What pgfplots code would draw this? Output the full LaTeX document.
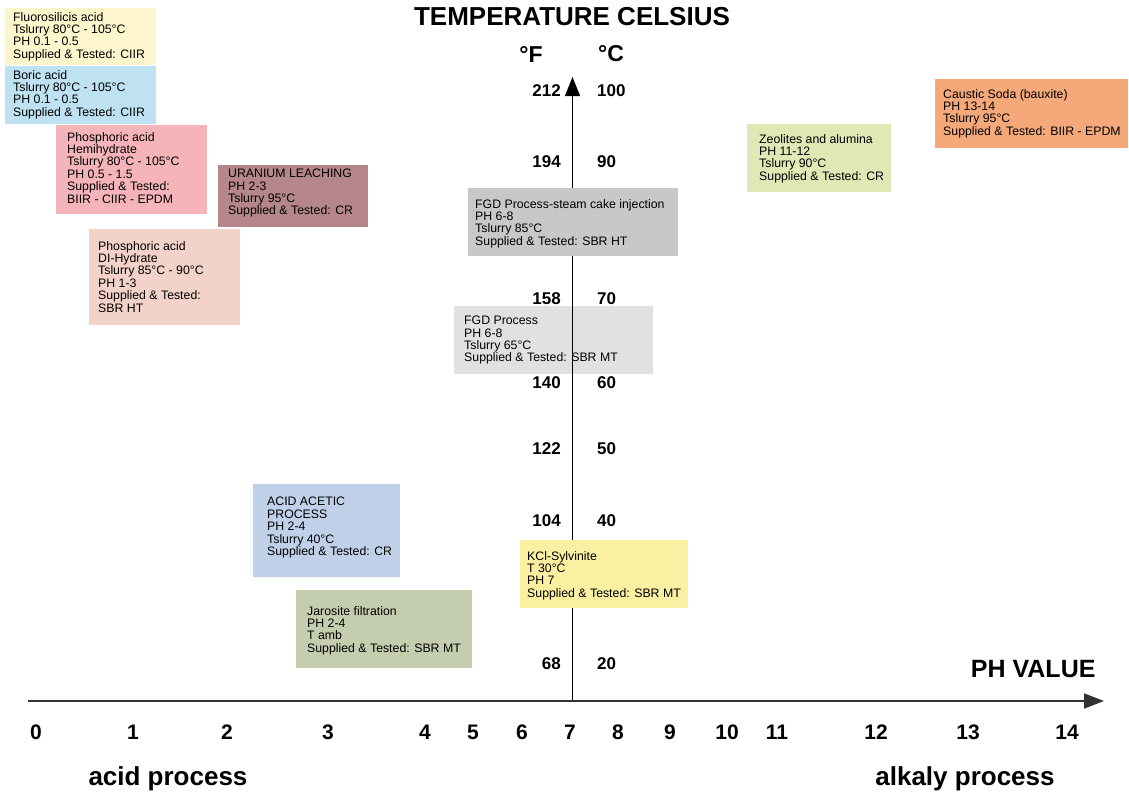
\documentclass[border=0pt]{standalone}
\usepackage{fontspec}
\setmainfont{Liberation Sans}
\usepackage{pgfplots}
\pgfplotsset{compat=1.18}
\usetikzlibrary{arrows.meta}

\definecolor{axgray}{HTML}{333333}
\definecolor{cFluoro}{HTML}{FDF6CC}
\definecolor{cBoric}{HTML}{BEE2F2}
\definecolor{cHemi}{HTML}{F5B4BA}
\definecolor{cUran}{HTML}{B5878A}
\definecolor{cDiHyd}{HTML}{F3D3C9}
\definecolor{cSteam}{HTML}{C8C8C8}
\definecolor{cFGD}{HTML}{E1E1E1}
\definecolor{cZeol}{HTML}{DFE9B5}
\definecolor{cCaust}{HTML}{F5A97A}
\definecolor{cAcet}{HTML}{C0D0E9}
\definecolor{cJaro}{HTML}{C5CDAF}
\definecolor{cKCl}{HTML}{F9F0A1}

\newcommand\boxfont{\fontsize{12.3}{12.4}\selectfont}
% box: x1 y1 x2 y2 colour textx texty text  (pixel coordinates, y downwards)
\newcommand\procbox[8]{%
  \addplot[fill=#5, draw=none] coordinates {(#1,#2) (#3,#2) (#3,#4) (#1,#4)} -- cycle;
  \node[anchor=north west, inner sep=0pt, align=left, font=\boxfont] at (axis cs:#6,#7) {#8};
}

\pgfplotstableread{
x    y   l
36   732 0
133  732 1
227  732 2
328  732 3
425  732 4
473  732 5
522  732 6
570  732 7
618  732 8
670  732 9
727  732 10
777  732 11
876  732 12
968  732 13
1067 732 14
}\phticks

\pgfplotstableread{
x   y   l
561 91  212
561 162 194
561 299 158
561 383 140
561 449 122
561 521 104
561 664 68
}\fticks

\pgfplotstableread{
x   y   l
597 91  100
597 162 90
597 299 70
597 383 60
597 449 50
597 521 40
597 664 20
}\cticks

\begin{document}
\begin{tikzpicture}
\begin{axis}[
    scale only axis,
    width=1129pt, height=796pt,
    xmin=0, xmax=1129, ymin=0, ymax=796,
    y dir=reverse,
    hide axis,
    clip=false,
]
\addplot[draw=none] coordinates {(0,0) (1129,796)};

% FGD process box sits under the temperature axis
\procbox{454}{306}{653}{374}{cFGD}{464}{316}{FGD Process\\PH 6-8\\Tslurry 65°C\\Supplied \& Tested: SBR MT}

% temperature scale labels
\addplot[draw=none, nodes near coords, point meta=explicit symbolic,
    nodes near coords style={anchor=east, inner sep=0pt, font=\fontsize{17}{17}\selectfont\bfseries}]
    table[meta=l] {\fticks};
\addplot[draw=none, nodes near coords, point meta=explicit symbolic,
    nodes near coords style={anchor=west, inner sep=0pt, font=\fontsize{17}{17}\selectfont\bfseries}]
    table[meta=l] {\cticks};

% axes
\addplot[color=black, line width=1.2pt, -{Triangle[length=19pt, width=15pt]}]
    coordinates {(572.5,701) (572.5,77)};
\addplot[color=axgray, line width=1.8pt, -{Triangle[length=20pt, width=15pt]}]
    coordinates {(28,701) (1104,701)};

% process boxes
\procbox{5}{8}{156}{65}{cFluoro}{13}{12}{Fluorosilicis acid\\Tslurry 80°C - 105°C\\PH 0.1 - 0.5\\Supplied \& Tested: CIIR}
\procbox{5}{66}{156}{124}{cBoric}{13}{70}{Boric acid\\Tslurry 80°C - 105°C\\PH 0.1 - 0.5\\Supplied \& Tested: CIIR}
\procbox{56}{125}{207}{214}{cHemi}{67}{132}{Phosphoric acid\\Hemihydrate\\Tslurry 80°C - 105°C\\PH 0.5 - 1.5\\Supplied \& Tested:\\BIIR - CIIR - EPDM}
\procbox{218}{165}{368}{227}{cUran}{228}{169}{URANIUM LEACHING\\PH 2-3\\Tslurry 95°C\\Supplied \& Tested: CR}
\procbox{89}{229}{240}{325}{cDiHyd}{98}{241}{Phosphoric acid\\DI-Hydrate\\Tslurry 85°C - 90°C\\PH 1-3\\Supplied \& Tested:\\SBR HT}
\procbox{468}{188}{678}{256}{cSteam}{475}{199}{FGD Process-steam cake injection\\PH 6-8\\Tslurry 85°C\\Supplied \& Tested: SBR HT}
\procbox{747}{124}{891}{192}{cZeol}{759}{134}{Zeolites and alumina\\PH 11-12\\Tslurry 90°C\\Supplied \& Tested: CR}
\procbox{935}{79}{1128}{148}{cCaust}{943}{89}{Caustic Soda (bauxite)\\PH 13-14\\Tslurry 95°C\\Supplied \& Tested: BIIR - EPDM}
\procbox{253}{484}{400}{577}{cAcet}{267}{497}{ACID ACETIC\\PROCESS\\PH 2-4\\Tslurry 40°C\\Supplied \& Tested: CR}
\procbox{296}{590}{472}{668}{cJaro}{307}{606}{Jarosite filtration\\PH 2-4\\T amb\\Supplied \& Tested: SBR MT}
\procbox{520}{540}{688}{608}{cKCl}{527}{551}{KCl-Sylvinite\\T 30°C\\PH 7\\Supplied \& Tested: SBR MT}

% pH tick labels
\addplot[draw=none, nodes near coords, point meta=explicit symbolic,
    nodes near coords style={anchor=center, inner sep=0pt, font=\fontsize{21}{21}\selectfont\bfseries}]
    table[meta=l] {\phticks};

% titles
\node[font=\fontsize{26}{26}\selectfont\bfseries] at (axis cs:572,17) {TEMPERATURE CELSIUS};
\node[font=\fontsize{23}{23}\selectfont\bfseries] at (axis cs:531,54) {°F};
\node[font=\fontsize{23}{23}\selectfont\bfseries] at (axis cs:611,54) {°C};
\node[anchor=east, font=\fontsize{25}{25}\selectfont\bfseries] at (axis cs:1099,669) {PH VALUE};
\node[font=\fontsize{26}{26}\selectfont\bfseries] at (axis cs:168,779) {acid process};
\node[font=\fontsize{26}{26}\selectfont\bfseries] at (axis cs:965,779) {alkaly process};
\end{axis}
\end{tikzpicture}
\end{document}
